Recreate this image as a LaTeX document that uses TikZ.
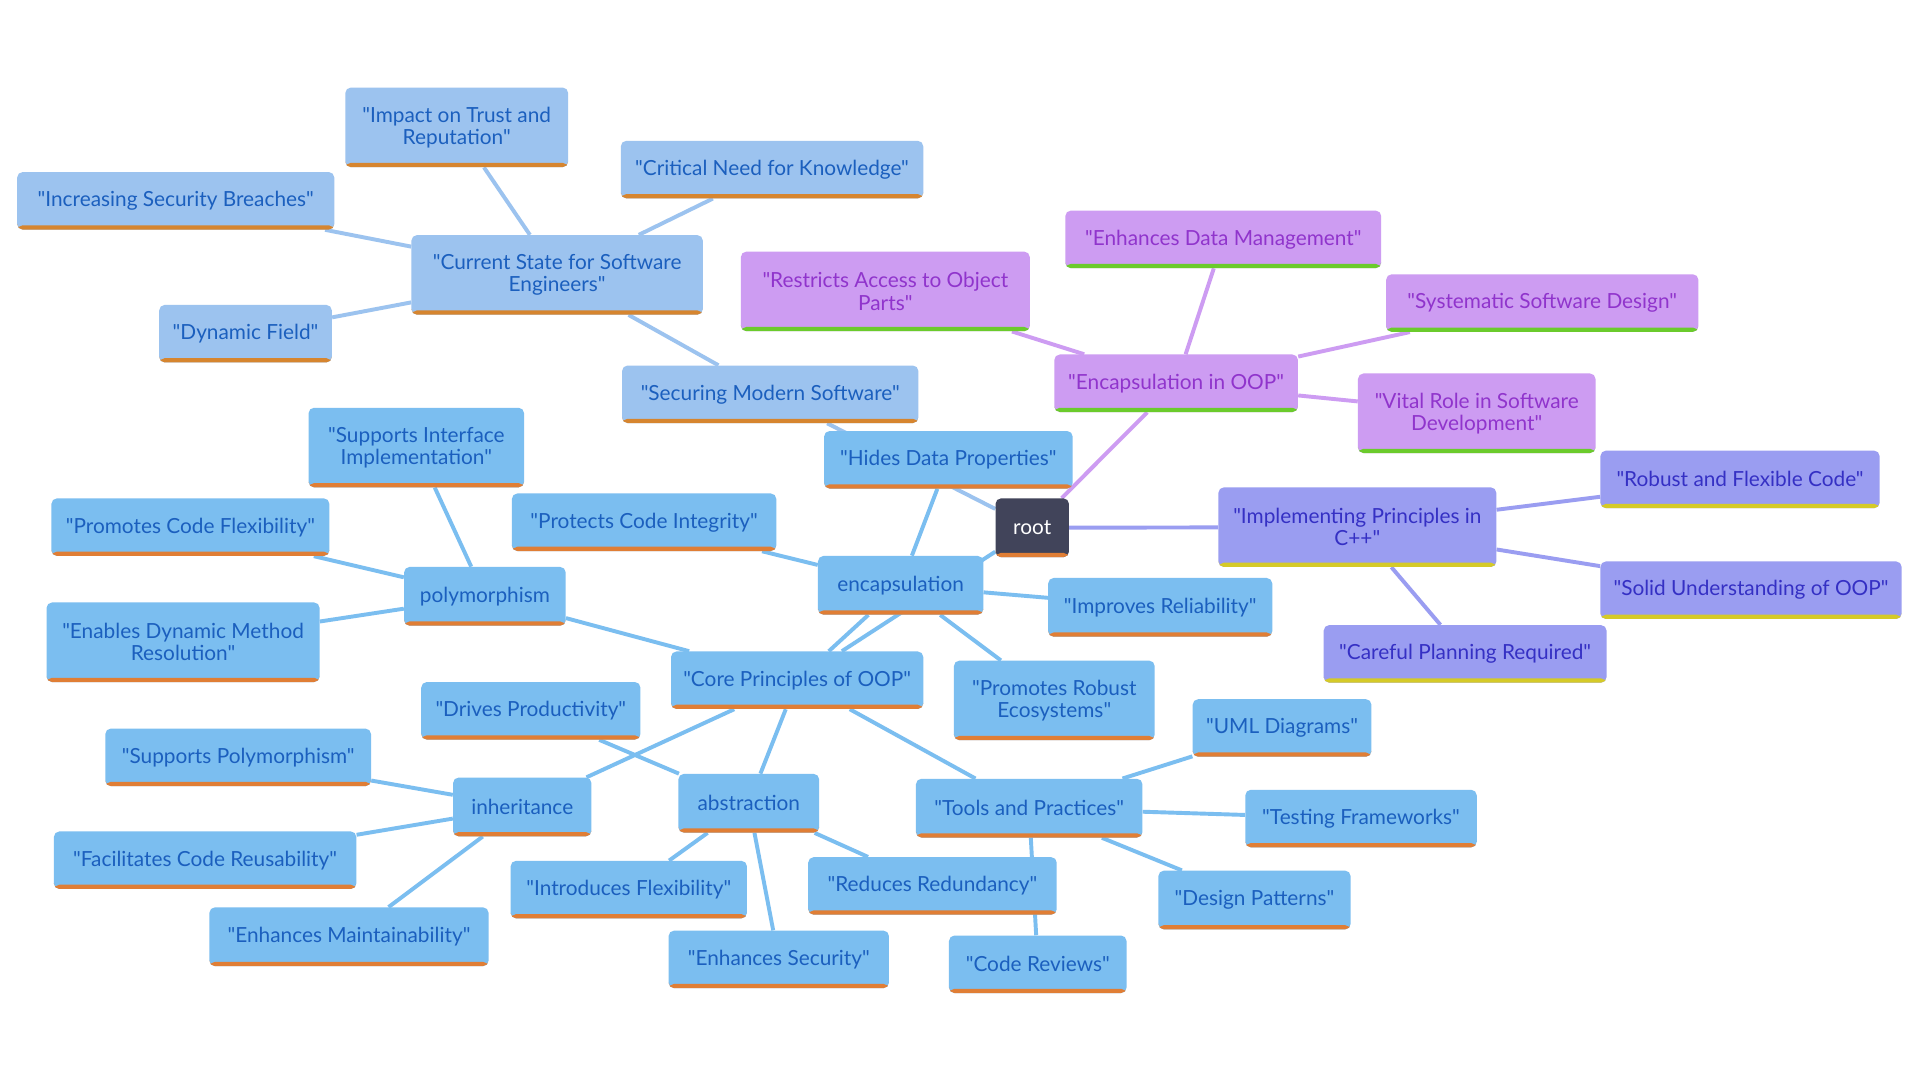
\documentclass[tikz,border=0pt]{standalone}
\usepackage{fontspec}
\setmainfont{Lato}[Ligatures=TeXOff]
\usepackage{tikz}
\usetikzlibrary{positioning, calc}
\usepackage{xcolor}
\definecolor{NodeBlue}{HTML}{7BBEF0}
\definecolor{NodeSky}{HTML}{9CC3EF}
\definecolor{NodeLilac}{HTML}{CD9CF2}
\definecolor{NodePeri}{HTML}{9A9DF1}
\definecolor{RootSlate}{HTML}{41445A}
\definecolor{TextBlue}{HTML}{1B5FBE}
\definecolor{TextPurple}{HTML}{9034CC}
\definecolor{TextIndigo}{HTML}{3530C4}
\definecolor{BarOrange}{HTML}{E07E35}
\definecolor{BarOchre}{HTML}{D6852F}
\definecolor{BarGreen}{HTML}{6BCB2C}
\definecolor{BarYellow}{HTML}{D5CA28}
\pgfdeclarelayer{bg}
\pgfsetlayers{bg,main}

\begin{document}
\begin{tikzpicture}[
  x=1pt, y=-1pt,
  mm/.style n args={3}{rounded corners=4.5pt, inner sep=0pt, align=center,
    minimum height=47, fill=#1, text=#2,
    font=\fontsize{17}{18}\selectfont,
    path picture={\fill[#3] (path picture bounding box.south west)
      rectangle ([yshift=3.5pt]path picture bounding box.south east);}},
  core/.style={mm={NodeBlue}{TextBlue}{BarOrange}},
  state/.style={mm={NodeSky}{TextBlue}{BarOchre}},
  encap/.style={mm={NodeLilac}{TextPurple}{BarGreen}},
  impl/.style={mm={NodePeri}{TextIndigo}{BarYellow}},
  tall/.style={minimum height=65},
  ln/.style={line width=3.2pt, draw=#1},
]
  \useasboundingbox (0,0) rectangle (1568,882);

  % root
  \node[mm={RootSlate}{white}{BarOrange}, minimum width=60, minimum height=48] (root) at (843,431) {root};

  % Securing modern software
  \node[state, minimum width=242] (securing) at (629,322) {"Securing Modern Software"};
  \node[state, tall, minimum width=238] (curstate) at (455,224.5) {"Current State for Software\\Engineers"};
  \node[state, tall, minimum width=182] (trust) at (373,104) {"Impact on Trust and\\Reputation"};
  \node[state, minimum width=247] (knowledge) at (630.5,138.5) {"Critical Need for Knowledge"};
  \node[state, minimum width=259] (breaches) at (143.5,164) {"Increasing Security Breaches"};
  \node[state, minimum width=141] (dynfield) at (200.5,272.5) {"Dynamic Field"};

  % Encapsulation in OOP
  \node[encap, minimum width=199] (encoop) at (960.5,313) {"Encapsulation in OOP"};
  \node[encap, minimum width=258] (datamgmt) at (999,195.5) {"Enhances Data Management"};
  \node[encap, tall, minimum width=236] (restricts) at (723,238) {"Restricts Access to Object\\Parts"};
  \node[encap, minimum width=255] (sysdesign) at (1259.5,247.5) {"Systematic Software Design"};
  \node[encap, tall, minimum width=194] (vital) at (1206,337.5) {"Vital Role in Software\\Development"};

  % Implementing in C++
  \node[impl, tall, minimum width=227] (implement) at (1108.5,430.5) {"Implementing Principles in\\C++"};
  \node[impl, minimum width=228] (robust) at (1421,391.5) {"Robust and Flexible Code"};
  \node[impl, minimum width=246] (solid) at (1430,482) {"Solid Understanding of OOP"};
  \node[impl, minimum width=231] (planning) at (1196.5,534) {"Careful Planning Required"};

  % Core principles
  \node[core, minimum width=206] (principles) at (651,555.5) {"Core Principles of OOP"};
  \node[core, minimum width=135, minimum height=48] (encapsulation) at (735.5,478) {encapsulation};
  \node[core, minimum width=203] (hides) at (774.5,375.5) {"Hides Data Properties"};
  \node[core, minimum width=216] (integrity) at (526,426.5) {"Protects Code Integrity"};
  \node[core, minimum width=183, minimum height=48] (reliability) at (947.5,496) {"Improves Reliability"};
  \node[core, tall, minimum width=164] (ecosystems) at (861,572) {"Promotes Robust\\Ecosystems"};

  \node[core, minimum width=132, minimum height=48] (polymorphism) at (396,487) {polymorphism};
  \node[core, tall, minimum width=176] (iface) at (340,365.5) {"Supports Interface\\Implementation"};
  \node[core, minimum width=227] (codeflex) at (155.5,430.5) {"Promotes Code Flexibility"};
  \node[core, tall, minimum width=223] (dynmethod) at (149.5,524.5) {"Enables Dynamic Method\\Resolution"};

  \node[core, minimum width=113, minimum height=48] (inheritance) at (426.5,659) {inheritance};
  \node[core, minimum width=217] (suppoly) at (194.5,618.5) {"Supports Polymorphism"};
  \node[core, minimum width=247] (reuse) at (167.5,702.5) {"Facilitates Code Reusability"};
  \node[core, minimum width=228, minimum height=48] (maintain) at (285,765) {"Enhances Maintainability"};

  \node[core, minimum width=115, minimum height=48] (abstraction) at (611.5,656) {abstraction};
  \node[core, minimum width=179] (productivity) at (433.5,580.5) {"Drives Productivity"};
  \node[core, minimum width=193] (introflex) at (513.5,726.5) {"Introduces Flexibility"};
  \node[core, minimum width=180] (security) at (636,783.5) {"Enhances Security"};
  \node[core, minimum width=203] (redundancy) at (761.5,723.5) {"Reduces Redundancy"};

  \node[core, minimum width=185, minimum height=48] (tools) at (840.5,660) {"Tools and Practices"};
  \node[core, minimum width=146] (uml) at (1047,594.5) {"UML Diagrams"};
  \node[core, minimum width=189] (testing) at (1111.5,668.5) {"Testing Frameworks"};
  \node[core, minimum width=157, minimum height=48] (patterns) at (1024.5,735) {"Design Patterns"};
  \node[core, minimum width=145] (reviews) at (847.5,787.5) {"Code Reviews"};

  % Connectors (behind the boxes)
  \begin{pgfonlayer}{bg}
    \fill[white] (0,0) rectangle (1568,882);
    \foreach \a/\b in {root/securing, securing/curstate, curstate/trust,
        curstate/knowledge, curstate/breaches, curstate/dynfield}
      \draw[ln=NodeSky] (\a) -- (\b);
    \foreach \a/\b in {root/encoop, encoop/datamgmt, encoop/restricts,
        encoop/sysdesign, encoop/vital}
      \draw[ln=NodeLilac] (\a) -- (\b);
    \foreach \a/\b in {root/implement, implement/robust, implement/solid,
        implement/planning}
      \draw[ln=NodePeri] (\a) -- (\b);
    \foreach \a/\b in {root/principles, principles/encapsulation,
        encapsulation/hides, encapsulation/integrity, encapsulation/reliability,
        encapsulation/ecosystems, principles/polymorphism, polymorphism/iface,
        polymorphism/codeflex, polymorphism/dynmethod, principles/inheritance,
        inheritance/suppoly, inheritance/reuse, inheritance/maintain,
        principles/abstraction, abstraction/productivity, abstraction/introflex,
        abstraction/security, abstraction/redundancy, principles/tools,
        tools/uml, tools/testing, tools/patterns, tools/reviews}
      \draw[ln=NodeBlue] (\a) -- (\b);
  \end{pgfonlayer}
\end{tikzpicture}
\end{document}
